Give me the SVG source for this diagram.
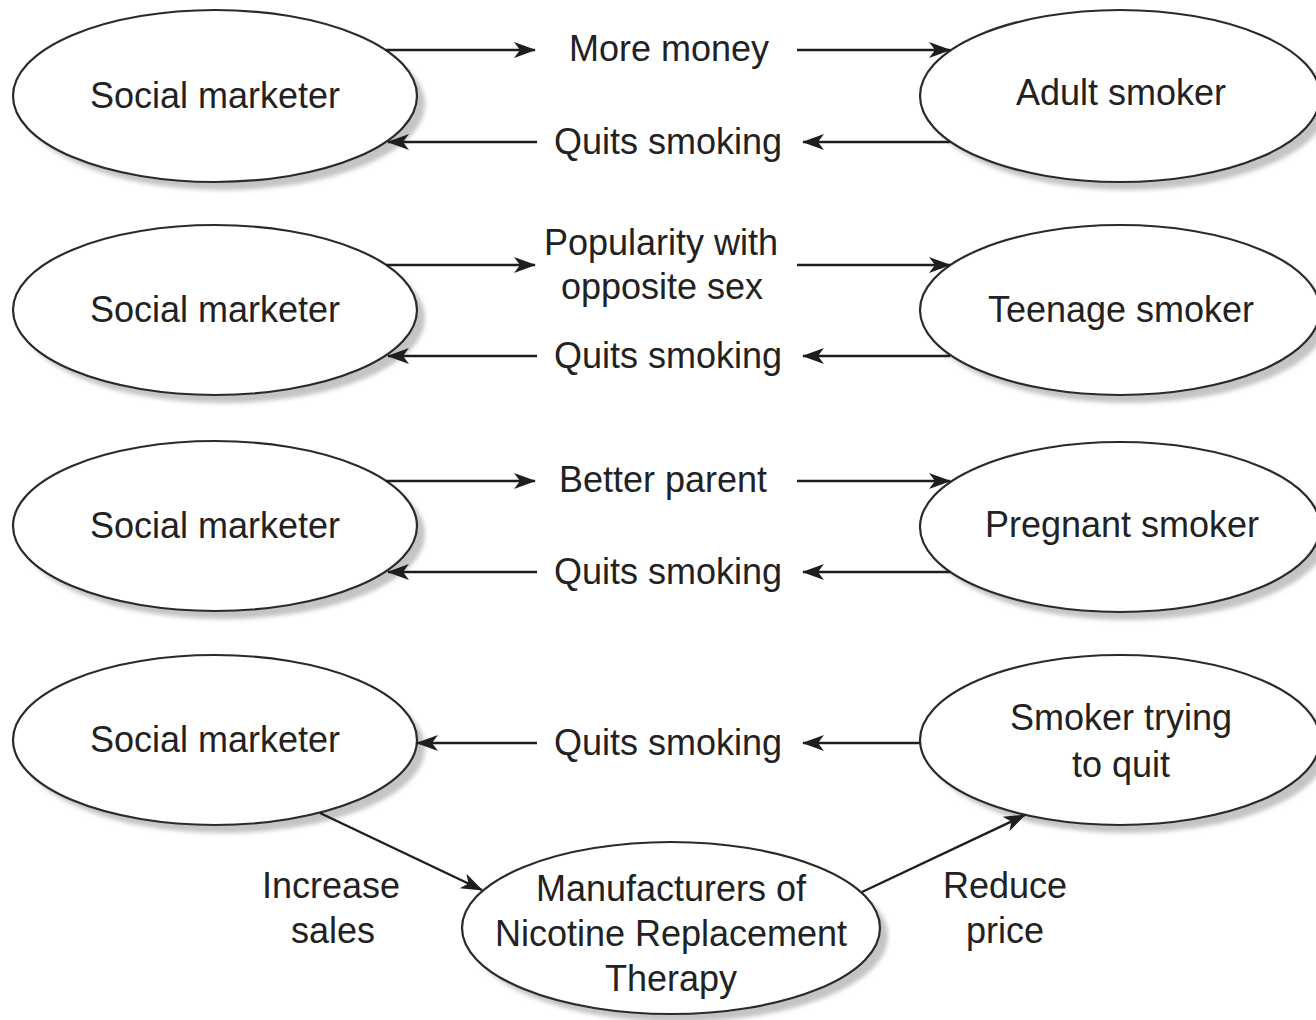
<svg xmlns="http://www.w3.org/2000/svg" width="1316" height="1020" viewBox="0 0 1316 1020">
  <defs>
    <style>
      .node-shadow { fill: #c4c4c4; stroke: none; filter: url(#soft); }
      .node-body { fill: #ffffff; stroke: #2a2a2a; stroke-width: 2.2; }
      .label { font-family: "Liberation Sans", Arial, sans-serif; font-size: 36px; fill: #222222; text-anchor: middle; }
      .edge { stroke: #1e1e1e; stroke-width: 2.4; fill: none; marker-end: url(#arrow); }
    </style>
    <filter id="soft" x="-10%" y="-10%" width="120%" height="120%">
      <feGaussianBlur stdDeviation="2"/>
    </filter>
    <marker id="arrow" markerUnits="userSpaceOnUse" markerWidth="26" markerHeight="20" viewBox="-22 -10 24 20" refX="0" refY="0" orient="auto">
      <path d="M1,0 L-21,-8 L-15,0 L-21,8 Z" fill="#1e1e1e"/>
    </marker>
  </defs>

  <!-- Row 1 -->
  <g id="social-marketer-1">
    <ellipse class="node-shadow" cx="223" cy="104" rx="202" ry="86"/>
    <ellipse class="node-body" cx="215" cy="96" rx="202" ry="86"/>
    <text class="label" x="215" y="108">Social marketer</text>
  </g>
  <g id="adult-smoker">
    <ellipse class="node-shadow" cx="1128" cy="104" rx="200" ry="86"/>
    <ellipse class="node-body" cx="1120" cy="96" rx="200" ry="86"/>
    <text class="label" x="1121" y="105">Adult smoker</text>
  </g>

  <!-- Row 2 -->
  <g id="social-marketer-2">
    <ellipse class="node-shadow" cx="223" cy="318" rx="202" ry="85"/>
    <ellipse class="node-body" cx="215" cy="310" rx="202" ry="85"/>
    <text class="label" x="215" y="322">Social marketer</text>
  </g>
  <g id="teenage-smoker">
    <ellipse class="node-shadow" cx="1128" cy="318" rx="200" ry="85"/>
    <ellipse class="node-body" cx="1120" cy="310" rx="200" ry="85"/>
    <text class="label" x="1121" y="322">Teenage smoker</text>
  </g>

  <!-- Row 3 -->
  <g id="social-marketer-3">
    <ellipse class="node-shadow" cx="223" cy="534" rx="202" ry="85"/>
    <ellipse class="node-body" cx="215" cy="526" rx="202" ry="85"/>
    <text class="label" x="215" y="538">Social marketer</text>
  </g>
  <g id="pregnant-smoker">
    <ellipse class="node-shadow" cx="1128" cy="535" rx="200" ry="85"/>
    <ellipse class="node-body" cx="1120" cy="527" rx="200" ry="85"/>
    <text class="label" x="1122" y="537">Pregnant smoker</text>
  </g>

  <!-- Row 4 -->
  <g id="social-marketer-4">
    <ellipse class="node-shadow" cx="223" cy="748" rx="202" ry="85"/>
    <ellipse class="node-body" cx="215" cy="740" rx="202" ry="85"/>
    <text class="label" x="215" y="752">Social marketer</text>
  </g>
  <g id="smoker-trying-to-quit">
    <ellipse class="node-shadow" cx="1128" cy="748" rx="200" ry="85"/>
    <ellipse class="node-body" cx="1120" cy="740" rx="200" ry="85"/>
    <text class="label" x="1121" y="730">Smoker trying</text>
    <text class="label" x="1121" y="777">to quit</text>
  </g>
  <g id="nrt-manufacturers">
    <ellipse class="node-shadow" cx="679" cy="936" rx="209" ry="86"/>
    <ellipse class="node-body" cx="671" cy="928" rx="209" ry="86"/>
    <text class="label" x="671" y="901">Manufacturers of</text>
    <text class="label" x="671" y="946">Nicotine Replacement</text>
    <text class="label" x="671" y="991">Therapy</text>
  </g>

  <!-- Connectors -->
  <g id="connectors">
    <line class="edge" x1="386" y1="50" x2="535" y2="50"/>
    <line class="edge" x1="797" y1="50" x2="950" y2="50"/>
    <line class="edge" x1="950" y1="142" x2="803" y2="142"/>
    <line class="edge" x1="537" y1="142" x2="388" y2="142"/>

    <line class="edge" x1="386" y1="265" x2="535" y2="265"/>
    <line class="edge" x1="797" y1="265" x2="950" y2="265"/>
    <line class="edge" x1="950" y1="356" x2="803" y2="356"/>
    <line class="edge" x1="537" y1="356" x2="388" y2="356"/>

    <line class="edge" x1="386" y1="481" x2="535" y2="481"/>
    <line class="edge" x1="797" y1="481" x2="950" y2="481"/>
    <line class="edge" x1="950" y1="572" x2="803" y2="572"/>
    <line class="edge" x1="537" y1="572" x2="388" y2="572"/>

    <line class="edge" x1="920" y1="743" x2="803" y2="743"/>
    <line class="edge" x1="537" y1="743" x2="417" y2="743"/>

    <line class="edge" x1="320" y1="813" x2="482" y2="890"/>
    <line class="edge" x1="862" y1="892" x2="1025" y2="815"/>
  </g>

  <!-- Connector labels -->
  <g id="edge-labels">
    <text class="label" x="669" y="61">More money</text>
    <text class="label" x="668" y="154">Quits smoking</text>
    <text class="label" x="661" y="255">Popularity with</text>
    <text class="label" x="662" y="299">opposite sex</text>
    <text class="label" x="668" y="368">Quits smoking</text>
    <text class="label" x="663" y="492">Better parent</text>
    <text class="label" x="668" y="584">Quits smoking</text>
    <text class="label" x="668" y="755">Quits smoking</text>
    <text class="label" x="331" y="898">Increase</text>
    <text class="label" x="333" y="943">sales</text>
    <text class="label" x="1005" y="898">Reduce</text>
    <text class="label" x="1005" y="943">price</text>
  </g>
</svg>
